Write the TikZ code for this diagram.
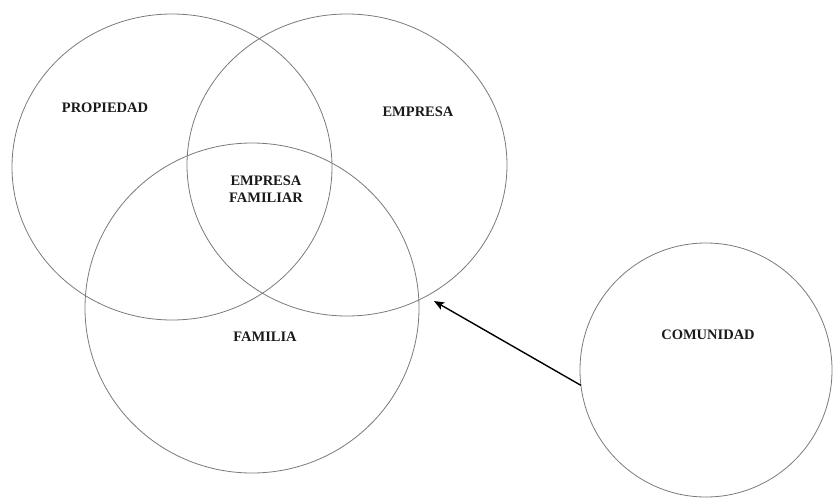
\documentclass[tikz,border=0pt]{standalone}
\usepackage{fontspec}
\setmainfont{Liberation Serif}
\usetikzlibrary{positioning,arrows.meta,shapes.geometric}
\definecolor{ringgray}{HTML}{7A7A7A}
\definecolor{textblack}{HTML}{1A1A1A}

\begin{document}
\begin{tikzpicture}[
    x=1pt, y=-1pt,
    every node/.style={font=\fontsize{14.5}{17}\selectfont\bfseries, text=textblack},
    ring/.style={
        draw=ringgray, ellipse, line width=0.8pt,
        inner sep=0pt, outer sep=0pt
    },
    arr/.style={-{Stealth[length=10pt,width=8pt,inset=2pt]}, line width=1.4pt, color=black},
]
\useasboundingbox (0,0) rectangle (833,498);

% === Three overlapping sets ===
\node[ring, minimum width=320pt, minimum height=306pt] (propiedad) at (172,167) {};
\node[ring, minimum width=320pt, minimum height=302pt] (empresa) at (347,165) {};
\node[ring, minimum width=334pt, minimum height=330pt] (familia) at (252,308) {};

% Set labels
\node (lblprop) at (105,108) {PROPIEDAD};
\node (lblemp) at (418,112) {EMPRESA};
\node[align=center] (lblfam) at (266,189) {EMPRESA\\FAMILIAR};
\node (lblfamilia) at (265,337) {FAMILIA};

% === Outer circle: Comunidad ===
\node[ring, minimum width=252pt, minimum height=254pt] (comunidad) at (706,370) {};
\node (lblcom) at (708,335) {COMUNIDAD};

% === Arrow ===
\coordinate (target) at (434,301);
\draw[arr] (comunidad.187) -- (target);

\end{tikzpicture}
\end{document}
